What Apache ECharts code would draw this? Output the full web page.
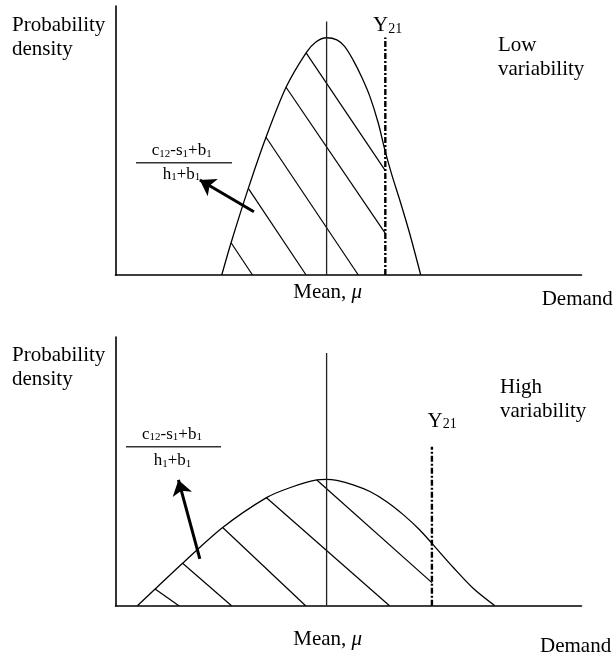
<!DOCTYPE html>
<html>
<head>
<meta charset="utf-8">
<script src="https://cdn.jsdelivr.net/npm/echarts@6/dist/echarts.min.js"></script>
<style>
html,body{margin:0;padding:0;background:#fff;}
#chart{width:613px;height:658px;}
</style>
</head>
<body>
<div id="chart"></div>
<script>
// ---- data (schematic units: demand 0-100, density 0-100) ----
const lowVarCurve = [[22.8,0],[24.8,12.0],[28.5,32.2],[32.3,51.2],[36.6,69.8],[40.9,82.6],[43.0,86.6],[45.3,88.2],[47.5,87.4],[49.2,84.9],[51.0,79.9],[52.8,73.7],[54.6,66.3],[56.4,56.4],[57.8,46.5],[59.3,37.2],[61.0,27.9],[63.1,15.6],[65.5,0]];
const highVarCurve = [[4.7,0],[8.5,6.2],[14.4,15.8],[23.0,29.1],[32.4,40.2],[37.4,43.9],[43.2,46.8],[45.2,47.0],[47.5,46.6],[51.0,45.0],[54.6,42.5],[58.2,38.7],[61.8,33.8],[65.3,28.2],[67.9,23.2],[72.5,14.2],[76.8,6.4],[81.4,0]];
const lowVarMean = [[45.3,0],[45.3,94.2]];
const highVarMean = [[45.3,0],[45.3,94.0]];
const lowVarY21 = [[57.9,0],[57.9,88.3]];
const highVarY21 = [[67.9,0],[67.9,59.2]];
const lowVarHatch = [[[24.8,12.0],[29.4,0]],[[28.5,32.2],[40.9,0]],[[32.3,51.2],[52.1,0]],[[36.6,69.8],[57.9,15.5]],[[40.9,82.6],[57.9,38.8]]];
const highVarHatch = [[[8.5,6.2],[13.6,0]],[[14.4,15.8],[24.9,0]],[[23.0,29.1],[40.8,0]],[[32.4,40.2],[58.8,0]],[[43.2,46.8],[67.9,8.6]]];
const lowVarArrow = [[29.7,23.5],[18.1,35.3]];
const highVarArrow = [[18.1,17.4],[13.5,46.8]];
const panelLabels = ['Low\nvariability','High\nvariability'];

const FONT = '"Liberation Serif","Times New Roman",serif';
const chart = echarts.init(document.getElementById('chart'), null, {renderer:'canvas'});

function axisPair(i){
  const common = {type:'value', min:0, max:100, gridIndex:i,
    axisLine:{show:true, onZero:false, lineStyle:{color:'#000', width:1.6}},
    axisTick:{show:false}, axisLabel:{show:false}, splitLine:{show:false}};
  return [Object.assign({}, common), Object.assign({}, common)];
}
const ax0 = axisPair(0), ax1 = axisPair(1);

function panelSeries(i, curve, mean, y21, hatch, arrow){
  return [
    {type:'line', xAxisIndex:i, yAxisIndex:i, data:curve, smooth:0.3, showSymbol:false, silent:true,
      lineStyle:{color:'#000', width:1.3}},
    {type:'line', xAxisIndex:i, yAxisIndex:i, data:mean, showSymbol:false, silent:true,
      lineStyle:{color:'#222', width:1.3}},
    {type:'line', xAxisIndex:i, yAxisIndex:i, data:y21, showSymbol:false, silent:true,
      lineStyle:{color:'#000', width:2.4, type:[6,2,2,2]}},
    {type:'lines', coordinateSystem:'cartesian2d', xAxisIndex:i, yAxisIndex:i, silent:true,
      data: hatch.map(s => ({coords:s})),
      lineStyle:{color:'#000', width:1.2, opacity:1}},
    {type:'lines', coordinateSystem:'cartesian2d', xAxisIndex:i, yAxisIndex:i, silent:true,
      symbol:['none','arrow'], symbolSize:[12,15],
      data:[{coords:arrow}],
      lineStyle:{color:'#000', width:3, opacity:1}}
  ];
}

const rich = {
  m:{fontFamily:FONT, fontSize:21, lineHeight:21, verticalAlign:'top', color:'#000'},
  mi:{fontFamily:FONT, fontSize:21, lineHeight:21, verticalAlign:'top', color:'#000', fontStyle:'italic'},
  s:{fontFamily:FONT, fontSize:14, lineHeight:14, verticalAlign:'bottom', padding:[9,0,0,0], color:'#000'},
  f:{fontFamily:FONT, fontSize:17, lineHeight:17, verticalAlign:'top', color:'#000'},
  fs:{fontFamily:FONT, fontSize:11, lineHeight:11, verticalAlign:'bottom', padding:[7,0,0,0], color:'#000'}
};
function rtext(x, baseline, text, align, off){
  return {type:'text', x:x, y:baseline - off, silent:true,
    style:{text:text, rich:rich, align:align||'left', verticalAlign:'top', fill:'#000', font:'21px '+FONT}};
}
function ptext(x, baseline, text){
  return {type:'text', x:x, y:baseline - 7.1, silent:true,
    style:{text:text, align:'left', verticalAlign:'middle', fill:'#000', font:'21px '+FONT}};
}
function bar(x1,x2,y){
  return {type:'line', silent:true, shape:{x1:x1,y1:y,x2:x2,y2:y}, style:{stroke:'#333', lineWidth:1.5}};
}

const numer = '{f|c}{fs|12}{f|-s}{fs|1}{f|+b}{fs|1}';
const denom = '{f|h}{fs|1}{f|+b}{fs|1}';
const lowLines = panelLabels[0].split('\n');
const highLines = panelLabels[1].split('\n');

const graphics = [
  // top panel
  ptext(12, 32.3, 'Probability'), ptext(12, 57, 'density'),
  rtext(373, 33, '{m|Y}{s|21}', 'left', 17.6),
  ptext(498, 53, lowLines[0]), ptext(498, 77, lowLines[1]),
  rtext(181.7, 156.7, numer, 'center', 14.3), bar(136, 232, 162.7), rtext(181.5, 180, denom, 'center', 14.3),
  rtext(293.3, 299.3, '{m|Mean, }{mi|μ}', 'left', 17.6),
  ptext(541.7, 306.7, 'Demand'),
  // bottom panel
  ptext(12, 362.3, 'Probability'), ptext(12, 386.7, 'density'),
  ptext(500, 395, highLines[0]), ptext(500, 418.3, highLines[1]),
  rtext(427.5, 428.3, '{m|Y}{s|21}', 'left', 17.6),
  rtext(172, 440, numer, 'center', 14.3), bar(126, 221, 446.7), rtext(172.5, 466.7, denom, 'center', 14.3),
  rtext(293.3, 646.7, '{m|Mean, }{mi|μ}', 'left', 17.6),
  ptext(540, 653.3, 'Demand')
];

chart.setOption({
  animation:false,
  backgroundColor:'#fff',
  grid:[
    {left:115.5, top:6, width:466, height:269},
    {left:115.5, top:337, width:466, height:268.7}
  ],
  xAxis:[ax0[0], ax1[0]],
  yAxis:[ax0[1], ax1[1]],
  series:[].concat(
    panelSeries(0, lowVarCurve, lowVarMean, lowVarY21, lowVarHatch, lowVarArrow),
    panelSeries(1, highVarCurve, highVarMean, highVarY21, highVarHatch, highVarArrow)
  ),
  graphic:graphics
});
</script>
</body>
</html>
